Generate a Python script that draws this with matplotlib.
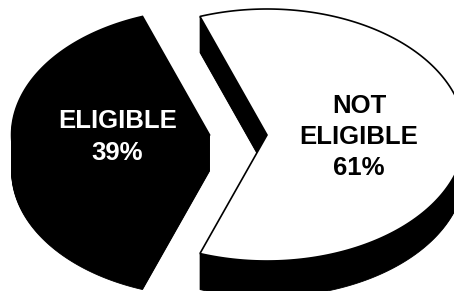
import numpy as np
import matplotlib
matplotlib.use("Agg")
import matplotlib.pyplot as plt
from matplotlib.patches import Polygon

# ---- data ----
labels = ["ELIGIBLE", "NOT\nELIGIBLE"]
values = [39, 61]
face_colors = ["black", "white"]
text_colors = ["white", "black"]
explode = [0.29, 0.0]

# ---- geometry of the tilted pie (pixel units) ----
CX, CY = 267, 135
RX, RY = 198, 126
DEPTH = 36
START = 180 - values[0] / sum(values) * 180  # black slice centred on the left

fig = plt.figure(figsize=(4.54, 2.91), dpi=100)
ax = fig.add_axes([0, 0, 1, 1])
ax.set_xlim(0, 454)
ax.set_ylim(291, 0)
ax.axis("off")

total = sum(values)
theta = START
for lab, v, fc, tc, ex in zip(labels, values, face_colors, text_colors, explode):
    span = v / total * 360
    t1, t2 = theta, theta + span
    mid = np.deg2rad((t1 + t2) / 2)
    ox = CX + ex * RX * np.cos(mid)
    oy = CY - ex * RY * np.sin(mid)
    ang = np.deg2rad(np.linspace(t1, t2, 200))
    xs = np.concatenate([[ox], ox + RX * np.cos(ang)])
    ys = np.concatenate([[oy], oy - RY * np.sin(ang)])
    pts = np.column_stack([xs, ys])
    # extrusion (side walls), drawn as a sweep of the face downwards
    for d in np.arange(DEPTH, 0, -1.0):
        ax.add_patch(Polygon(pts + [0, d], closed=True, facecolor="black",
                             edgecolor="black", lw=0.6, zorder=1))
    # top face
    ax.add_patch(Polygon(pts, closed=True, facecolor=fc, edgecolor="black",
                         lw=1.2, zorder=2, joinstyle="miter"))
    lx = ox + 0.465 * RX * np.cos(mid)
    ly = oy - 0.465 * RY * np.sin(mid)
    ax.text(lx, ly + 2, f"{lab}\n{v}%", ha="center", va="center",
            fontsize=18.5, fontweight="bold", family="Liberation Sans",
            color=tc, linespacing=1.38, zorder=3)
    theta = t2

fig.savefig("out.png", dpi=100, facecolor="white")
